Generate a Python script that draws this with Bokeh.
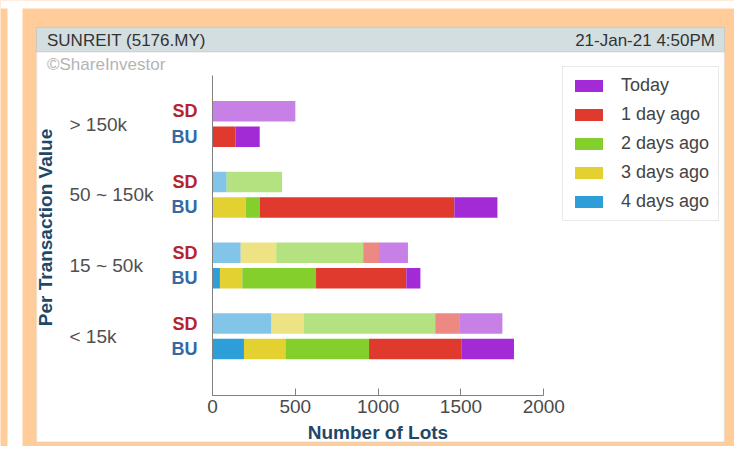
import numpy as np
from bokeh.plotting import figure
from bokeh.models import (Range1d, LinearAxis, FixedTicker, BoxAnnotation, Label,
                          Legend, LegendItem, ColumnDataSource)
from bokeh.core.properties import value
from bokeh.embed import file_html
from bokeh.resources import INLINE

# ---------------- data ----------------
groups = ["> 150k", "50 ~ 150k", "15 ~ 50k", "< 15k"]
series = ["Today", "1 day ago", "2 days ago", "3 days ago", "4 days ago"]
colors = ["#A22BD6", "#E03A2F", "#84CF2C", "#E3D132", "#2E9ED9"]

# SD (sell down) lots per group
sd_today = [500, 0, 175, 260]
sd_1d = [0, 0, 95, 145]
sd_2d = [0, 335, 525, 795]
sd_3d = [0, 0, 215, 195]
sd_4d = [0, 85, 170, 355]
# BU (buy up) lots per group
bu_today = [145, 260, 85, 315]
bu_1d = [140, 1175, 545, 560]
bu_2d = [0, 85, 445, 505]
bu_3d = [0, 200, 135, 250]
bu_4d = [0, 0, 45, 190]

x_ticks = [0, 500, 1000, 1500, 2000]
title_left = "SUNREIT (5176.MY)"
title_right = "21-Jan-21 4:50PM"
credit = "\u00a9ShareInvestor"

# ---------------- layout ----------------
W, H = 734, 446
PEACH = "#FFCC9A"
FONT = "Liberation Sans"

px_per_unit = 331.3 / 2000.0
x0_px = 212.0
xs = -x0_px / px_per_unit
xe = (W - x0_px) / px_per_unit
grp_px = 70.75
g0_py = 335.75
ye = g0_py / grp_px
ys = -(H - g0_py) / grp_px


def X(px):
    return xs + px / W * (xe - xs)


def Y(py):
    return ye - py / H * (ye - ys)


def YV(py):
    return (g0_py - py) / grp_px


n = len(groups)
gpos = [float(n - 1 - i) for i in range(n)]
off, bh = 0.18, 0.29
sd_y = [g + off for g in gpos]
bu_y = [g - off for g in gpos]

p = figure(width=W, height=H, x_range=Range1d(xs, xe), y_range=Range1d(ys, ye),
           output_backend="svg", toolbar_location=None, tools="",
           x_axis_location=None, y_axis_location=None, min_border=0,
           background_fill_color=PEACH, border_fill_color=PEACH,
           outline_line_color=None)
for g in p.grid:
    g.visible = False

# background panels
p.add_layout(BoxAnnotation(left=X(7), right=X(22), bottom=Y(H), top=Y(0),
                           fill_color="white", fill_alpha=1, line_color=None,
                           level="underlay"))
p.add_layout(BoxAnnotation(left=X(0), right=X(W), bottom=Y(8), top=Y(0),
                           fill_color="white", fill_alpha=1, line_color=None,
                           level="underlay"))
p.add_layout(BoxAnnotation(left=X(36), right=X(724), bottom=Y(441.5), top=Y(27),
                           fill_color="white", fill_alpha=1, line_color="#CFCFCF",
                           line_width=2, level="underlay"))
p.add_layout(BoxAnnotation(left=X(36), right=X(724), bottom=Y(51.5), top=Y(27),
                           fill_color="#D3DEE1", fill_alpha=1, line_color="#A89C8E",
                           line_width=1, level="underlay"))

stack_keys = ["d4", "d3", "d2", "d1", "d0"]
stack_cols = colors[::-1]

sd_src = ColumnDataSource(dict(y=sd_y, d0=sd_today, d1=sd_1d, d2=sd_2d, d3=sd_3d, d4=sd_4d))
bu_src = ColumnDataSource(dict(y=bu_y, d0=bu_today, d1=bu_1d, d2=bu_2d, d3=bu_3d, d4=bu_4d))

p.hbar_stack(stack_keys, y="y", height=bh, color=stack_cols, source=sd_src,
             fill_alpha=0.6, line_color=None)
bu_r = p.hbar_stack(stack_keys, y="y", height=bh, color=stack_cols, source=bu_src,
                    line_color=None)

# x axis
x_axis_y = YV(395)
xa = LinearAxis(fixed_location=x_axis_y, bounds=(0, 2000),
                ticker=FixedTicker(ticks=x_ticks),
                major_tick_in=7, major_tick_out=0, minor_tick_line_color=None,
                axis_line_color="#808080", major_tick_line_color="#808080",
                major_label_standoff=4, major_label_text_font=FONT,
                major_label_text_font_size="19px", major_label_text_color="#4A4A4A",
                axis_label="Number of Lots", axis_label_text_font=FONT,
                axis_label_text_font_style="bold", axis_label_text_font_size="19px",
                axis_label_text_color="#1E4868", axis_label_standoff=6)
p.add_layout(xa, "below")

ybounds = (x_axis_y, YV(75))
sd_axis = LinearAxis(fixed_location=0, bounds=ybounds, ticker=FixedTicker(ticks=sd_y),
                     major_label_overrides={t: "SD" for t in sd_y},
                     major_tick_in=0, major_tick_out=0, minor_tick_line_color=None,
                     major_tick_line_color=None,
                     axis_line_color="#808080", major_label_standoff=15,
                     major_label_text_font=FONT, major_label_text_font_style="bold",
                     major_label_text_font_size="18px", major_label_text_color="#B5232E")
bu_axis = LinearAxis(fixed_location=0, bounds=ybounds, ticker=FixedTicker(ticks=bu_y),
                     major_label_overrides={t: "BU" for t in bu_y},
                     major_tick_in=0, major_tick_out=0, minor_tick_line_color=None,
                     major_tick_line_color=None,
                     axis_line_color=None, major_label_standoff=15,
                     major_label_text_font=FONT, major_label_text_font_style="bold",
                     major_label_text_font_size="18px", major_label_text_color="#3569A3")
p.add_layout(sd_axis, "left")
p.add_layout(bu_axis, "left")

# group labels
glab = ColumnDataSource(dict(x=[X(69)] * n, y=gpos, text=groups))
p.text(x="x", y="y", text="text", source=glab, text_font=value(FONT),
       text_font_size="19px", text_color="#505050", text_align="left",
       text_baseline="middle")

# titles
p.add_layout(Label(x=X(46.5), y=Y(39.5), text=title_left, text_font=FONT,
                   text_font_size="17px", text_color="#333333", text_baseline="middle"))
p.add_layout(Label(x=X(714.5), y=Y(39.5), text=title_right, text_font=FONT,
                   text_font_size="17px", text_color="#333333", text_baseline="middle",
                   text_align="right"))
p.add_layout(Label(x=X(46.5), y=Y(64), text=credit, text_font=FONT,
                   text_font_size="17px", text_color="#B4B4B4", text_baseline="middle"))
p.add_layout(Label(x=X(45), y=Y(227), text="Per Transaction Value", angle=np.pi / 2,
                   text_font=FONT, text_font_size="19px", text_font_style="bold",
                   text_color="#1E4868", text_align="center", text_baseline="middle"))

# legend
items = [LegendItem(label=s, renderers=[r]) for s, r in zip(series, bu_r[::-1])]
legend = Legend(items=items, location=(562, 225), margin=0, padding=8,
                glyph_width=35, glyph_height=15, label_height=21, spacing=8,
                label_standoff=15, label_width=89,
                label_text_font=FONT, label_text_font_size="18px",
                label_text_color="#444444", border_line_color="#D4D4D4",
                border_line_width=1, background_fill_color="white",
                background_fill_alpha=1)
p.add_layout(legend)

open("out.html", "w").write(file_html(p, INLINE))
